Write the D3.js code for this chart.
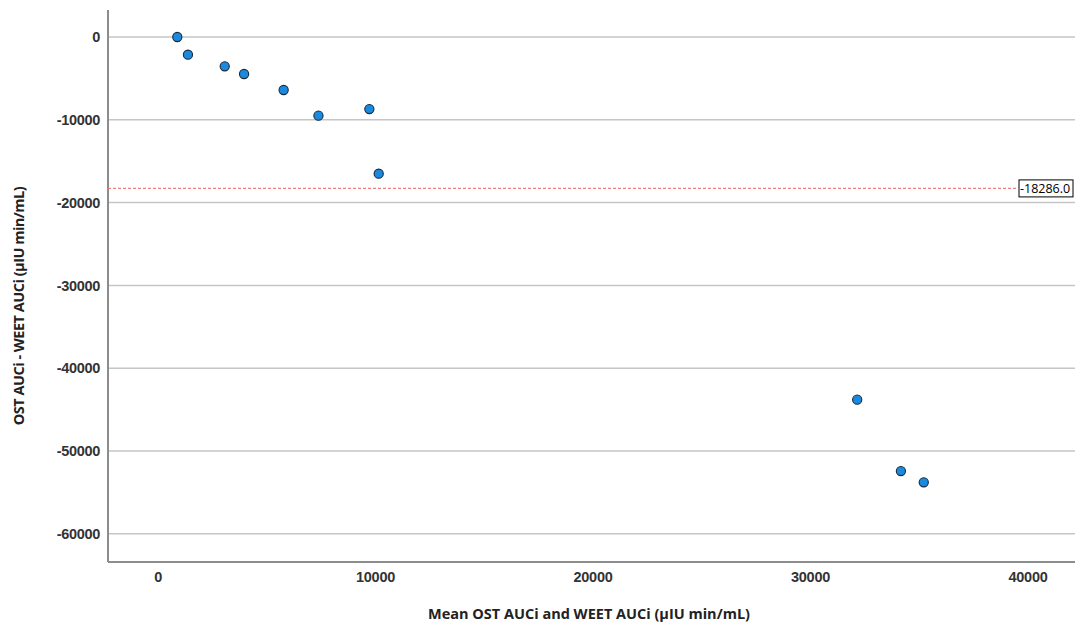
<!DOCTYPE html>
<html>
<head>
<meta charset="utf-8">
<script src="https://cdn.jsdelivr.net/npm/d3@7"></script>
<style>
  body { margin: 0; background: #fff; }
  svg { display: block; font-family: "Open Sans", "Noto Sans", sans-serif; }
</style>
</head>
<body>
<svg id="chart" width="1075" height="630"></svg>
<script>
// mean of the two measures (x) and their difference (y)
const meanAUC = [910, 1400, 3090, 3980, 5800, 7400, 9740, 10170, 32170, 34180, 35230];
const diffAUC = [0, -2140, -3540, -4470, -6400, -9500, -8700, -16510, -43800, -52420, -53780];
const meanDiff = -18286.0;
const xTicks = [0, 10000, 20000, 30000, 40000];
const yTicks = [0, -10000, -20000, -30000, -40000, -50000, -60000];

const svg = d3.select("#chart");
const plotLeft = 108, plotRight = 1075, plotTop = 10, plotBottom = 562;

let x = d3.scaleLinear().domain([-2276, 42184]).range([plotLeft, plotRight]);
let y = d3.scaleLinear().domain([-63406, 3261]).range([plotBottom, plotTop]);

// plain hyphen instead of d3's unicode minus
const fmt = (d) => String(d);

// gridlines
svg.append("g")
  .selectAll("line")
  .data(yTicks)
  .enter()
  .append("line")
  .attr("x1", plotLeft)
  .attr("x2", plotRight)
  .attr("y1", (d) => y(d))
  .attr("y2", (d) => y(d))
  .attr("stroke", "#c6c6c6")
  .attr("stroke-width", 1.5);

// axes
let xAxis = d3.axisBottom(x).tickValues(xTicks).tickSize(0).tickPadding(10).tickFormat(fmt);
let yAxis = d3.axisLeft(y).tickValues(yTicks).tickSize(0).tickPadding(8).tickFormat(fmt);

let gx = svg.append("g").attr("transform", `translate(0,${plotBottom})`).call(xAxis);
let gy = svg.append("g").attr("transform", `translate(${plotLeft},0)`).call(yAxis);

[gx, gy].forEach((g) => {
  g.select(".domain").attr("stroke", "#8c8c8c").attr("stroke-width", 2);
  g.selectAll("text")
    .attr("fill", "#333")
    .style("font-size", "14.5px")
    .style("font-weight", "bold")
    .style("letter-spacing", "-0.3px");
});
gx.select(".domain").attr("d", `M${plotLeft},0H${plotRight}`);
gy.select(".domain").attr("d", `M0,${plotTop}V${plotBottom}`);

// mean difference line
svg.append("line")
  .attr("x1", plotLeft)
  .attr("x2", 1018)
  .attr("y1", y(meanDiff))
  .attr("y2", y(meanDiff))
  .attr("stroke", "#f08080")
  .attr("stroke-width", 1.2)
  .attr("stroke-dasharray", "3,2");

let lbl = svg.append("g").attr("transform", `translate(1019,${y(meanDiff)})`);
lbl.append("rect")
  .attr("x", 0)
  .attr("y", -8.5)
  .attr("width", 54)
  .attr("height", 17)
  .attr("fill", "#fff")
  .attr("stroke", "#000")
  .attr("stroke-width", 1);
lbl.append("text")
  .attr("x", 1)
  .attr("y", 4.5)
  .style("font-size", "12.5px")
  .attr("fill", "#000")
  .text(fmt(meanDiff.toFixed(1)));

// points
svg.append("g")
  .selectAll("circle")
  .data(meanAUC.map((m, i) => [m, diffAUC[i]]))
  .enter()
  .append("circle")
  .attr("cx", (d) => x(d[0]))
  .attr("cy", (d) => y(d[1]))
  .attr("r", 4.6)
  .attr("fill", "#1a8ae0")
  .attr("stroke", "#1b2a3a")
  .attr("stroke-width", 1.1);

// axis titles
svg.append("text")
  .attr("x", 589)
  .attr("y", 619)
  .attr("text-anchor", "middle")
  .attr("fill", "#222")
  .style("font-size", "14.5px")
  .style("font-weight", "bold")
  .text("Mean OST AUCi and WEET AUCi (µIU min/mL)");

svg.append("text")
  .attr("transform", "translate(24,306) rotate(-90)")
  .attr("text-anchor", "middle")
  .attr("fill", "#222")
  .style("font-size", "14.5px")
  .style("font-weight", "bold")
  .style("letter-spacing", "-0.5px")
  .text("OST AUCi - WEET AUCi (µIU min/mL)");
</script>
</body>
</html>
